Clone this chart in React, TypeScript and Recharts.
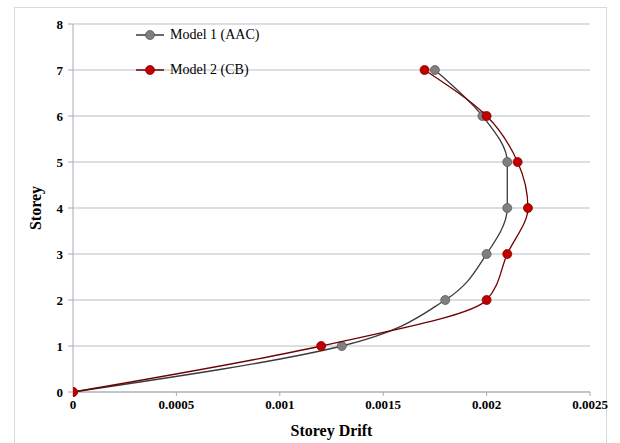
import { ScatterChart, Scatter, XAxis, YAxis, CartesianGrid, Label } from "recharts";

const storeys = [0, 1, 2, 3, 4, 5, 6, 7];
const model1Drift = [0, 0.0013, 0.0018, 0.002, 0.0021, 0.0021, 0.00198, 0.00175];
const model2Drift = [0, 0.0012, 0.002, 0.0021, 0.0022, 0.00215, 0.002, 0.0017];
const xTicks = [0, 0.0005, 0.001, 0.0015, 0.002, 0.0025];
const yTicks = [0, 1, 2, 3, 4, 5, 6, 7, 8];

const model1 = storeys.map((s, i) => ({ x: model1Drift[i], y: s }));
const model2 = storeys.map((s, i) => ({ x: model2Drift[i], y: s }));

const font = "'Liberation Serif', 'Times New Roman', serif";
const axisColor = "#a5acb8";

const series = [
    { name: "Model 1 (AAC)", fill: "#7f7f7f", dot: "#595959", line: "#3a3a3a" },
    { name: "Model 2 (CB)", fill: "#c00000", dot: "#8b0000", line: "#700000" },
];

const Dot = (props: any) => {
    const { cx, cy, fill, stroke } = props;
    return <circle cx={cx} cy={cy} r={4.5} fill={fill} stroke={stroke} strokeWidth={0.8} />;
};

// legend sits inside the plot area, so it is drawn as an overlay
const LegendBox = () => (
    <div style={{ position: "absolute", left: 136, top: 17, fontFamily: font, fontSize: 14, color: "#000" }}>
        {series.map((s) => (
            <div key={s.name} style={{ display: "flex", alignItems: "center", height: 35 }}>
                <svg width={34} height={12}>
                    <line x1={0} y1={6} x2={28} y2={6} stroke={s.line} strokeWidth={1.5} />
                    <circle cx={14} cy={6} r={4.5} fill={s.fill} stroke={s.dot} strokeWidth={0.8} />
                </svg>
                <span>{s.name}</span>
            </div>
        ))}
    </div>
);

export default function App() {
    return (
        <div style={{ position: "absolute", left: 0, top: 0, width: 620, height: 443, background: "#fff" }}>
            <div
                style={{
                    position: "absolute",
                    left: 14,
                    top: 7,
                    width: 591,
                    height: 445,
                    border: "1px solid #d9d9d9",
                }}
            />
            <div style={{ position: "absolute", left: 0, top: 0 }}>
                <ScatterChart width={620} height={443} margin={{ top: 24, right: 30, bottom: 21, left: 28 }}>
                    <CartesianGrid vertical={false} stroke="#cfd3da" strokeWidth={1.3} />
                    <XAxis
                        type="number"
                        dataKey="x"
                        domain={[0, 0.0025]}
                        ticks={xTicks}
                        height={30}
                        stroke={axisColor}
                        tickSize={4}
                        tickMargin={4}
                        tick={{ fill: "#000", fontFamily: font, fontSize: 13, fontWeight: "bold" }}
                        allowDataOverflow
                    >
                        <Label
                            value="Storey Drift"
                            position="insideBottom"
                            offset={-14}
                            style={{ fill: "#000", fontFamily: font, fontSize: 16, fontWeight: "bold" }}
                        />
                    </XAxis>
                    <YAxis
                        type="number"
                        dataKey="y"
                        domain={[0, 8]}
                        ticks={yTicks}
                        width={45}
                        stroke={axisColor}
                        tickSize={5}
                        tickMargin={5}
                        tick={{ fill: "#000", fontFamily: font, fontSize: 13, fontWeight: "bold" }}
                    >
                        <Label
                            value="Storey"
                            angle={-90}
                            position="insideLeft"
                            offset={7}
                            style={{ fill: "#000", fontFamily: font, fontSize: 16, fontWeight: "bold", textAnchor: "middle" }}
                        />
                    </YAxis>
                    <Scatter
                        name={series[0].name}
                        data={model1}
                        fill={series[0].fill}
                        stroke={series[0].dot}
                        line={{ stroke: series[0].line, strokeWidth: 1.3 }}
                        lineJointType="monotoneY"
                        shape={<Dot />}
                        isAnimationActive={false}
                    />
                    <Scatter
                        name={series[1].name}
                        data={model2}
                        fill={series[1].fill}
                        stroke={series[1].dot}
                        line={{ stroke: series[1].line, strokeWidth: 1.3 }}
                        lineJointType="monotoneY"
                        shape={<Dot />}
                        isAnimationActive={false}
                    />
                </ScatterChart>
            </div>
            <LegendBox />
        </div>
    );
}
